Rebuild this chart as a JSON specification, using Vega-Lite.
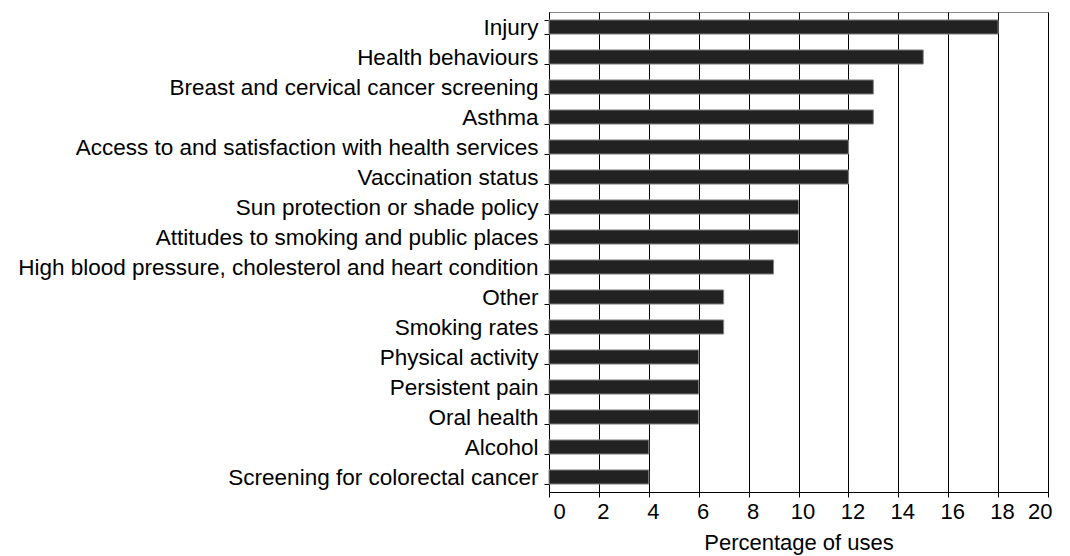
{
  "$schema": "https://vega.github.io/schema/vega-lite/v6.json",
  "width": 499,
  "height": 480,
  "autosize": {"type": "none"},
  "padding": {"left": 549, "top": 12, "right": 22, "bottom": 64},
  "background": "white",
  "config": {
    "font": "Liberation Sans",
    "view": {"stroke": "#888888", "strokeWidth": 1}
  },
  "data": {
    "values": [
      {"topic": "Injury", "pct": 18},
      {"topic": "Health behaviours", "pct": 15},
      {"topic": "Breast and cervical cancer screening", "pct": 13},
      {"topic": "Asthma", "pct": 13},
      {"topic": "Access to and satisfaction with health services", "pct": 12},
      {"topic": "Vaccination status", "pct": 12},
      {"topic": "Sun protection or shade policy", "pct": 10},
      {"topic": "Attitudes to smoking and public places", "pct": 10},
      {"topic": "High blood pressure, cholesterol and heart condition", "pct": 9},
      {"topic": "Other", "pct": 7},
      {"topic": "Smoking rates", "pct": 7},
      {"topic": "Physical activity", "pct": 6},
      {"topic": "Persistent pain", "pct": 6},
      {"topic": "Oral health", "pct": 6},
      {"topic": "Alcohol", "pct": 4},
      {"topic": "Screening for colorectal cancer", "pct": 4}
    ]
  },
  "mark": {"type": "bar", "fill": "#222222", "stroke": "#888888", "strokeWidth": 1},
  "encoding": {
    "y": {
      "field": "topic",
      "type": "nominal",
      "sort": null,
      "scale": {"paddingInner": 0.53, "paddingOuter": 0.265},
      "axis": {
        "title": null,
        "tickBand": "extent",
        "domainColor": "black",
        "tickColor": "black",
        "tickSize": 5,
        "labelFontSize": 22.5,
        "labelColor": "black",
        "labelPadding": 6,
        "labelLimit": 700
      }
    },
    "x": {
      "field": "pct",
      "type": "quantitative",
      "scale": {"domain": [0, 20], "nice": false},
      "axis": {
        "values": [0, 2, 4, 6, 8, 10, 12, 14, 16, 18, 20],
        "title": "Percentage of uses",
        "titleFontSize": 22,
        "titleFontWeight": "normal",
        "titleColor": "black",
        "titlePadding": 10,
        "grid": true,
        "gridColor": "black",
        "gridOpacity": 1,
        "gridWidth": 1,
        "domainColor": "black",
        "tickColor": "black",
        "tickSize": 5,
        "labelFontSize": 22,
        "labelColor": "black",
        "labelPadding": 4,
        "labelOffset": 4,
        "labelOverlap": false,
        "labelBound": false
      }
    }
  }
}
